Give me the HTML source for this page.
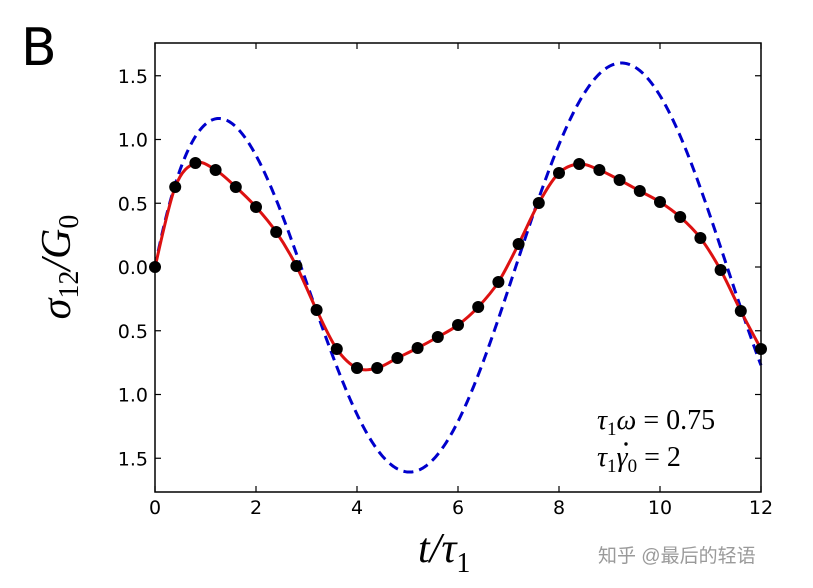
<!DOCTYPE html>
<html><head><meta charset="utf-8"><style>
body{margin:0;background:#fff;}
svg{display:block}
</style></head><body>
<svg id="s" width="813" height="588" xmlns="http://www.w3.org/2000/svg">
<rect width="813" height="588" fill="#fff"/>
<text x="21" y="65" font-family="DejaVu Sans, sans-serif" font-size="52" fill="#000">B</text>
<g id="plot"></g>
<rect x="155" y="43" width="606" height="449" fill="none" stroke="#000" stroke-width="1.5"/>
<g font-family="DejaVu Sans, sans-serif" font-size="19" fill="#000" id="ticks"></g>
<text transform="translate(70,267) rotate(-90)" text-anchor="middle" font-family="Liberation Serif, serif" font-size="42" font-style="italic">σ<tspan font-size="28" dy="8" font-style="normal">12</tspan><tspan dy="-8">/G</tspan><tspan font-size="28" dy="8" font-style="normal">0</tspan></text>
<text x="418" y="562" font-family="Liberation Serif, serif" font-size="42" font-style="italic">t/τ<tspan font-size="28" dy="10" font-style="normal">1</tspan></text>
<text x="597" y="429" font-family="Liberation Serif, serif" font-size="28" font-style="italic">τ<tspan font-size="19" dy="6" font-style="normal">1</tspan><tspan dy="-6">ω</tspan><tspan font-style="normal"> = 0.75</tspan></text>
<text x="597" y="466" font-family="Liberation Serif, serif" font-size="28" font-style="italic">τ<tspan font-size="19" dy="6" font-style="normal">1</tspan><tspan dy="-6">γ</tspan><tspan font-size="19" dy="6" font-style="normal">0</tspan><tspan dy="-6" font-style="normal"> = 2</tspan></text>
<circle cx="626" cy="444" r="1.7" fill="#000"/>
<text x="598" y="562" font-family="Liberation Sans, Noto Sans CJK SC, sans-serif" font-size="19" fill="#9a9a9a">知乎 @最后的轻语</text>
</svg>
<script>
var NS="http://www.w3.org/2000/svg";
function X(t){return 155+t*606/12;}
function Y(v){return 267-v*127.5;}
var p=document.getElementById("plot"),tk=document.getElementById("ticks");
function el(n,a,par){var e=document.createElementNS(NS,n);for(var k in a)e.setAttribute(k,a[k]);(par||p).appendChild(e);return e;}
var d="";for(var i=0;i<=600;i++){var t=12*i/600;var v=1.28*Math.cos(.75*t)+0.96*Math.sin(.75*t)-1.28*Math.exp(-t);d+=(i?"L":"M")+X(t).toFixed(2)+","+Y(v).toFixed(2);}
el("path",{d:d,fill:"none",stroke:"#0000cc","stroke-width":3,"stroke-dasharray":"10,6"});
var py=[267,187,163,170,187,207,232,266,310,349,368,368,358,348,337,325,307,282,244,203,173,164,170,180,191,202,217,238,270,311,349];
var pts=py.map(function(y,i){return [X(i*0.4),y];});
var r="M"+pts[0][0]+","+pts[0][1];
for(var i=0;i<pts.length-1;i++){var p0=pts[Math.max(i-1,0)],p1=pts[i],p2=pts[i+1],p3=pts[Math.min(i+2,pts.length-1)];
r+="C"+(p1[0]+(p2[0]-p0[0])/6)+","+(p1[1]+(p2[1]-p0[1])/6)+" "+(p2[0]-(p3[0]-p1[0])/6)+","+(p2[1]-(p3[1]-p1[1])/6)+" "+p2[0]+","+p2[1];}
el("path",{d:r,fill:"none",stroke:"#dd1111","stroke-width":3});
pts.forEach(function(q){el("circle",{cx:q[0],cy:q[1],r:6,fill:"#000"});});
for(var t=0;t<=12;t+=2){var x=X(t);el("line",{x1:x,x2:x,y1:492,y2:486,stroke:"#000","stroke-width":1.2});el("line",{x1:x,x2:x,y1:43,y2:49,stroke:"#000","stroke-width":1.2});
var tx=el("text",{x:x,y:514,"text-anchor":"middle"},tk);tx.textContent=t;}
[1.5,1,0.5,0,-0.5,-1,-1.5].forEach(function(v){var y=Y(v);el("line",{x1:155,x2:161,y1:y,y2:y,stroke:"#000","stroke-width":1.2});el("line",{x1:761,x2:755,y1:y,y2:y,stroke:"#000","stroke-width":1.2});
var tx=el("text",{x:148,y:y+7,"text-anchor":"end"},tk);tx.textContent=Math.abs(v).toFixed(1);});
</script>
</body></html>
